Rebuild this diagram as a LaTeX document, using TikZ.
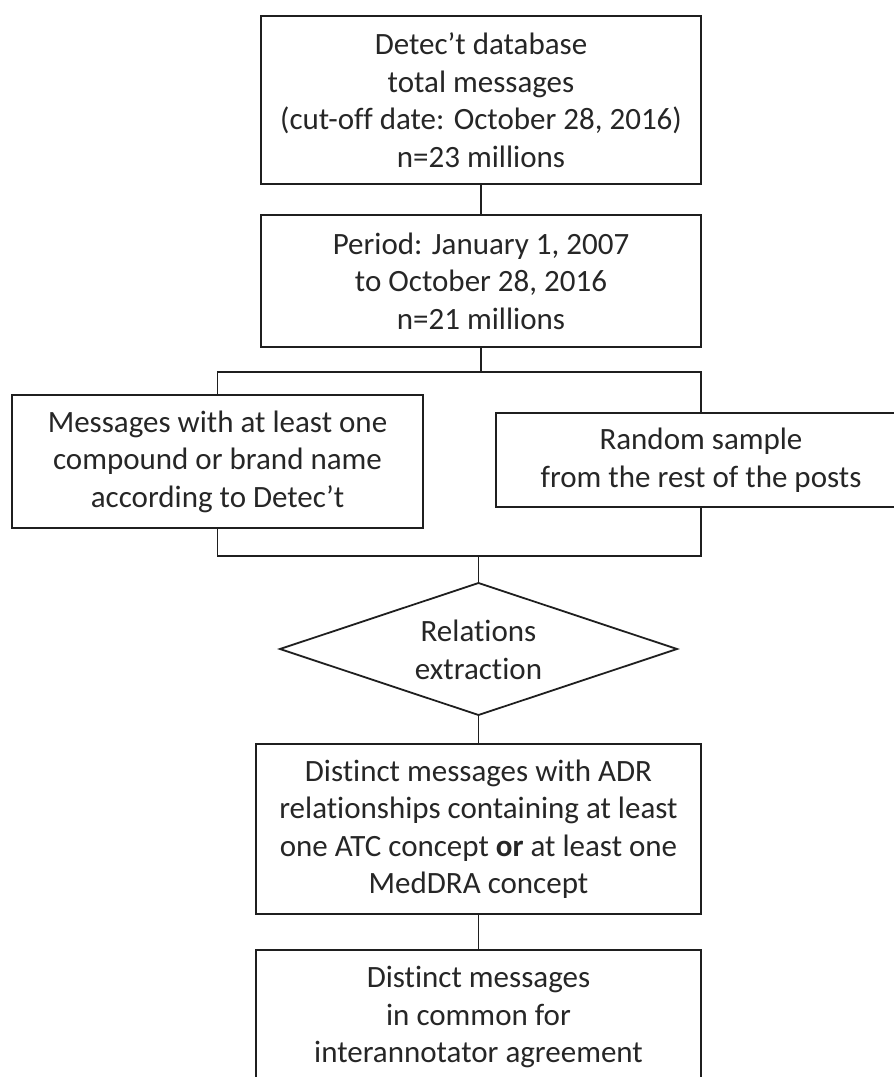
\documentclass[tikz,border=0pt]{standalone}
\usepackage{fontspec}
\setmainfont[Ligatures={NoCommon,NoContextual},RawFeature={-liga;-clig;-dlig}]{Carlito}
\begin{document}
\begin{tikzpicture}[x=1pt,y=-1pt,
  line/.style={draw=black!88,line width=1.8pt},
  box/.style={line,rectangle,inner sep=0pt,align=center,text=black!85,
    font=\fontsize{31}{37.5}\selectfont}]
\useasboundingbox (0,0) rectangle (894,1077);
\clip (0,0) rectangle (894,1077);
\node[box,minimum width=440pt,minimum height=168pt] (b1) at (481,100)
  {Detec’t database\\total messages\\(cut-off date: October 28, 2016)\\n=23 millions};
\node[box,minimum width=440pt,minimum height=132pt] (b2) at (481,281)
  {Period: January 1, 2007\\to October 28, 2016\\n=21 millions};
\node[box,minimum width=411pt,minimum height=133pt] (lb) at (217.5,461.5)
  {Messages with at least one\\compound or brand name\\according to Detec’t};
\node[box,minimum width=410pt,minimum height=94pt] (rb) at (701,460)
  {Random sample\\from the rest of the posts};
\coordinate (dT) at (478.5,583);
\coordinate (dB) at (478.5,715);
\coordinate (dL) at (280,649);
\coordinate (dR) at (677,649);
\draw[line,line join=miter] (dT) -- (dR) -- (dB) -- (dL) -- cycle;
\node[box,draw=none] (dia) at (478.5,650) {Relations\\extraction};
\node[box,minimum width=445pt,minimum height=170pt] (b5) at (478.5,829)
  {Distinct messages with ADR\\relationships containing at least\\one ATC concept \textbf{or} at least one\\MedDRA concept};
\node[box,minimum width=445pt,minimum height=134pt] (b6) at (478.5,1017)
  {Distinct messages\\in common for\\interannotator agreement};
\coordinate (jt) at (481,372);
\coordinate (jb) at (478.5,556);
\draw[line] (b1.south) -- (b2.north);
\draw[line] (b2.south) -- (jt);
\draw[line] (lb.north) |- (jt) -| (rb.north);
\draw[line] (lb.south) |- (jb) -| (rb.south);
\draw[line] (jb) -- (dT);
\draw[line] (dB) -- (b5.north);
\draw[line] (b5.south) -- (b6.north);
\end{tikzpicture}
\end{document}
